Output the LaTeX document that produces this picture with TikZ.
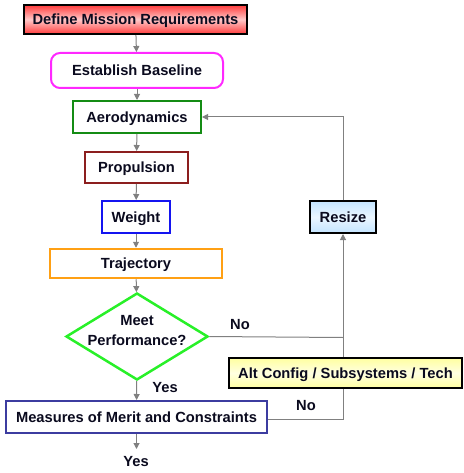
\documentclass[tikz,border=0pt]{standalone}
\usepackage{fontspec}
\setmainfont{Liberation Sans}
\usetikzlibrary{shapes.geometric,arrows.meta}
\definecolor{grayline}{RGB}{128,128,128}
\definecolor{magbox}{RGB}{255,40,255}
\definecolor{greenbox}{RGB}{20,140,20}
\definecolor{brownbox}{RGB}{140,30,30}
\definecolor{bluebox}{RGB}{20,20,240}
\definecolor{orangebox}{RGB}{255,160,20}
\definecolor{diagreen}{RGB}{40,240,40}
\definecolor{mombox}{RGB}{60,60,160}
\definecolor{rsedge}{RGB}{195,228,255}
\definecolor{rsmid}{RGB}{235,246,255}
\definecolor{altedge}{RGB}{255,255,160}
\definecolor{altmid}{RGB}{255,255,225}
\definecolor{dmredge}{RGB}{255,60,60}
\definecolor{dmrmid}{RGB}{255,200,200}
\definecolor{txt}{RGB}{10,10,30}
\tikzset{
  lbl/.style={font=\bfseries\fontsize{14.7}{20.5}\selectfont, text=txt},
  boxbase/.style={lbl, draw, line width=2pt, inner sep=0pt, fill=white, text height=10.5pt, text depth=0pt},
  conn/.style={draw=grayline, line width=1pt, -{Triangle[length=6pt,width=6pt]}},
  plain/.style={draw=grayline, line width=1pt},
}
\begin{document}
\begin{tikzpicture}[x=1pt,y=-1pt]
\useasboundingbox (0,0) rectangle (463,473);
\node[boxbase, draw=black, minimum width=223pt, minimum height=29pt,
  top color=dmredge, bottom color=dmredge, middle color=dmrmid] (dmr) at (135.5,19.5) {Define Mission Requirements};
\node[boxbase, draw=magbox, rounded corners=9pt, minimum width=172pt, minimum height=35pt] (eb) at (137,70.5) {Establish Baseline};
\node[boxbase, draw=greenbox, minimum width=128pt, minimum height=32pt] (aero) at (137,117) {Aerodynamics};
\node[boxbase, draw=brownbox, minimum width=103pt, minimum height=31pt] (prop) at (136.5,167.5) {Propulsion};
\node[boxbase, draw=bluebox, minimum width=68pt, minimum height=32pt] (wt) at (136,217) {Weight};
\node[boxbase, draw=orangebox, line width=2.5pt, minimum width=172pt, minimum height=29pt] (traj) at (136,263.5) {Trajectory};
\node[diamond, draw=diagreen, line width=2.5pt, fill=white, minimum width=142pt, minimum height=87pt, inner sep=0pt] (perf) at (137,336.5) {};
\node[lbl, align=center] (perftxt) at (137,330.5) {Meet\\Performance?};
\node[boxbase, draw=mombox, minimum width=261pt, minimum height=32pt] (mom) at (136.5,417) {Measures of Merit and Constraints};
\node[boxbase, draw=black, minimum width=66pt, minimum height=32pt,
  top color=rsedge, bottom color=rsedge, middle color=rsmid] (rs) at (343,217) {Resize};
\coordinate (c1) at (343,117);
\coordinate (c2) at (343,337.5);
\coordinate (c3) at (343,419);
\coordinate (out) at (136.5,449);
\node[lbl] (yes1) at (165,388) {Yes};
\node[lbl] (yes2) at (136,462) {Yes};
\node[lbl] (no1) at (240,325) {No};
\node[lbl] (no2) at (306,406) {No};
\draw[conn] (dmr) -- (eb);
\draw[conn] (eb) -- (aero);
\draw[conn] (aero) -- (prop);
\draw[conn] (prop) -- (wt);
\draw[conn] (wt) -- (traj);
\draw[conn] (traj) -- (perf);
\draw[conn] (perf) -- (mom);
\draw[conn] (mom) -- (out);
\draw[conn] (rs) -- (c1) -- (aero);
\draw[plain] (perf.east) -- (c2);
\draw[conn] (mom.east |- c3) -- (c3) -- (rs);
\node[boxbase, draw=black, minimum width=233pt, minimum height=30pt,
  top color=altedge, bottom color=altedge, middle color=altmid] (alt) at (345.5,373) {Alt Config / Subsystems / Tech};
\end{tikzpicture}
\end{document}
